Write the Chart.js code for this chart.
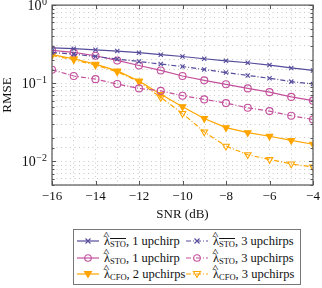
<!DOCTYPE html>
<html>
<head>
<meta charset="utf-8">
<script src="https://cdn.jsdelivr.net/npm/chart.js@4.4.0/dist/chart.umd.min.js"></script>
<style>
    body { margin: 0; background: #fff; }
    #wrap { position: relative; width: 322px; height: 288px; }
    #chartBox { position: absolute; left: 0; top: 0; width: 322px; height: 224px; }
    #legend {
        position: absolute; left: 73px; top: 229px; width: 228px; height: 56px;
        border: 1px solid #777; box-sizing: border-box;
        font-family: 'Liberation Serif', serif; font-size: 12.5px; color: #111;
    }
    .item { position: absolute; height: 16px; line-height: 16px; white-space: nowrap; }
    .item svg { position: absolute; left: 0; top: 0; }
    .item .txt { position: absolute; left: 28px; top: 0; }
    .lam { position: relative; }
    .hat { position: absolute; left: -0.5px; top: -6px; font-size: 10px; transform: scaleX(1.3); }
    sub { font-size: 8.5px; vertical-align: -2px; }
    .ov { text-decoration: overline; }
</style>
</head>
<body>
<div id="wrap">
    <div id="chartBox"><canvas id="rmseChart"></canvas></div>
    <div id="legend"></div>
</div>
<script>
// SNR axis
const snr = [-16, -15, -14, -13, -12, -11, -10, -9, -8, -7, -6, -5, -4];
const xTicks = [-16, -14, -12, -10, -8, -6, -4];
const yTicks = [1, 0.1, 0.01];

// RMSE values
const stoBar1 = [0.283, 0.277, 0.268, 0.258, 0.246, 0.232, 0.220, 0.206, 0.194, 0.183, 0.171, 0.157, 0.146];
const stoBar3 = [0.248, 0.236, 0.220, 0.204, 0.190, 0.176, 0.164, 0.150, 0.137, 0.126, 0.116, 0.105, 0.098];
const stoHat1 = [0.264, 0.248, 0.225, 0.196, 0.169, 0.146, 0.124, 0.109, 0.097, 0.086, 0.077, 0.067, 0.060];
const stoHat3 = [0.149, 0.124, 0.113, 0.098, 0.086, 0.080, 0.0694, 0.0622, 0.0558, 0.0486, 0.0441, 0.0384, 0.0344];
const cfo2 = [0.232, 0.206, 0.176, 0.144, 0.107, 0.0722, 0.0501, 0.0354, 0.0271, 0.0234, 0.0210, 0.0186, 0.0166];
const cfo3 = [0.227, 0.200, 0.171, 0.140, 0.105, 0.066, 0.0411, 0.0239, 0.0157, 0.0122, 0.0106, 0.0093, 0.0085];

const blue = '#554c9c';
const magenta = '#c4509c';
const orange = '#ffa500';
const dashDot = [5, 2, 1, 2];

function series(label, values, color, dash, style, fill, rot, radius) {
    return {
        label: label,
        data: snr.map((x, i) => ({ x: x, y: values[i] })),
        borderColor: color,
        borderWidth: 1.2,
        borderDash: dash,
        pointStyle: style,
        pointRadius: radius,
        pointRotation: rot,
        pointBorderColor: color,
        pointBorderWidth: 1.1,
        pointBackgroundColor: fill,
        tension: 0
    };
}

const datasets = [
    series('bar1', stoBar1, blue, [], 'crossRot', blue, 0, 3),
    series('bar3', stoBar3, blue, dashDot, 'crossRot', blue, 0, 3),
    series('hat1', stoHat1, magenta, [], 'circle', 'rgba(0,0,0,0)', 0, 3.5),
    series('hat3', stoHat3, magenta, dashDot, 'circle', 'rgba(0,0,0,0)', 0, 3.5),
    series('cfo2', cfo2, orange, [], 'triangle', orange, 180, 3.8),
    series('cfo3', cfo3, orange, dashDot, 'triangle', 'rgba(0,0,0,0)', 180, 3.8)
];

const axisColor = '#555';
const serif = "'Liberation Serif', serif";

// frame, inward ticks and 10^n labels like pgfplots
const framePlugin = {
    id: 'frame',
    afterDatasetsDraw(chart) {
        const ctx = chart.ctx;
        const a = chart.chartArea;
        const xs = chart.scales.x;
        const ys = chart.scales.y;
        ctx.save();
        ctx.strokeStyle = axisColor;
        ctx.lineWidth = 1;
        ctx.beginPath();
        xTicks.forEach(v => {
            const px = Math.round(xs.getPixelForValue(v)) + 0.5;
            ctx.moveTo(px, a.bottom); ctx.lineTo(px, a.bottom - 4);
            ctx.moveTo(px, a.top); ctx.lineTo(px, a.top + 4);
        });
        ys.ticks.forEach(t => {
            const py = Math.round(ys.getPixelForValue(t.value)) + 0.5;
            const len = yTicks.includes(t.value) ? 4 : 2.5;
            ctx.moveTo(a.left, py); ctx.lineTo(a.left + len, py);
            ctx.moveTo(a.right, py); ctx.lineTo(a.right - len, py);
        });
        ctx.stroke();
        ctx.lineWidth = 1.2;
        ctx.strokeRect(a.left, a.top, a.right - a.left, a.bottom - a.top);

        // y tick labels: base 10 with raised exponent
        ctx.fillStyle = '#111';
        ctx.textBaseline = 'alphabetic';
        yTicks.forEach(v => {
            const py = ys.getPixelForValue(v);
            const exp = String(Math.round(Math.log10(v))).replace('-', '\u2212');
            ctx.font = '10px ' + serif;
            const ew = ctx.measureText(exp).width;
            const right = a.left - 5;
            ctx.textAlign = 'right';
            ctx.fillText(exp, right, py);
            ctx.font = '14px ' + serif;
            ctx.fillText('10', right - ew - 0.5, py + 5);
        });
        ctx.restore();
    }
};

const font = { family: serif, size: 13 };

new Chart(document.getElementById('rmseChart'), {
    type: 'line',
    data: { datasets: datasets },
    options: {
        responsive: true,
        maintainAspectRatio: false,
        animation: false,
        layout: { padding: { left: 0, right: 9, top: 5, bottom: 0 } },
        plugins: { legend: { display: false }, tooltip: { enabled: false } },
        scales: {
            x: {
                type: 'linear',
                min: -16,
                max: -4,
                afterFit: s => { s.height = 39; s.paddingLeft = 0; s.paddingRight = 0; },
                grid: { color: '#c8c8c8', lineWidth: 1, drawTicks: false },
                border: { display: false, dash: [1, 3.5] },
                ticks: {
                    stepSize: 1,
                    padding: 4,
                    maxRotation: 0,
                    autoSkip: false,
                    color: '#111',
                    font: font,
                    callback: v => xTicks.includes(v) ? String(v).replace('-', '\u2212') : ''
                },
                title: { display: true, text: 'SNR (dB)', color: '#111', font: font, padding: { top: 2, bottom: 2 } }
            },
            y: {
                type: 'logarithmic',
                min: 0.005,
                max: 1,
                afterFit: s => { s.width = 52; s.paddingTop = 0; s.paddingBottom = 0; },
                grid: { color: '#c8c8c8', lineWidth: 1, drawTicks: false },
                border: { display: false, dash: [1, 3.5] },
                ticks: {
                    autoSkip: false,
                    padding: 5,
                    font: font,
                    callback: () => ''
                },
                title: { display: true, text: 'RMSE', color: '#111', font: font, padding: { top: 0, bottom: 4 } }
            }
        }
    },
    plugins: [framePlugin]
});

// legend in two columns, three rows
const legendRows = [
    { ds: 0, name: 'ov', sub: 'STO', tail: ', 1 upchirp' },
    { ds: 1, name: 'ov', sub: 'STO', tail: ', 3 upchirps' },
    { ds: 2, name: '', sub: 'STO', tail: ', 1 upchirp' },
    { ds: 3, name: '', sub: 'STO', tail: ', 3 upchirps' },
    { ds: 4, name: '', sub: 'CFO', tail: ', 2 upchirps' },
    { ds: 5, name: '', sub: 'CFO', tail: ', 3 upchirps' }
];

function markerSvg(d) {
    const c = d.borderColor;
    const dash = d.borderDash.length ? ' stroke-dasharray="' + d.borderDash.join(' ') + '"' : '';
    let m = '';
    if (d.pointStyle === 'crossRot') {
        m = `<path d="M9.5 5.5 L14.5 10.5 M14.5 5.5 L9.5 10.5" stroke="${c}" stroke-width="1.1"/>`;
    } else if (d.pointStyle === 'circle') {
        m = `<circle cx="12" cy="8" r="3.3" fill="none" stroke="${c}" stroke-width="1.1"/>`;
    } else {
        const f = d.pointBackgroundColor === c ? c : 'none';
        m = `<path d="M8.5 5.5 L15.5 5.5 L12 11.5 Z" fill="${f}" stroke="${c}" stroke-width="1.1"/>`;
    }
    return `<svg width="24" height="16"><line x1="1" y1="8" x2="23" y2="8" stroke="${c}" stroke-width="1.2"${dash}/>${m}</svg>`;
}

const legendEl = document.getElementById('legend');
legendRows.forEach((r, i) => {
    const col = i % 2;
    const row = Math.floor(i / 2);
    const el = document.createElement('div');
    el.className = 'item';
    el.style.left = (col === 0 ? 2 : 111) + 'px';
    el.style.top = (3 + row * 16.7) + 'px';
    const sub = r.name === 'ov' ? `<span class="ov">${r.sub}</span>` : r.sub;
    el.innerHTML = markerSvg(datasets[r.ds]) +
        `<span class="txt"><span class="lam">λ<span class="hat">^</span></span><sub>${sub}</sub>${r.tail}</span>`;
    legendEl.appendChild(el);
});
</script>
</body>
</html>
